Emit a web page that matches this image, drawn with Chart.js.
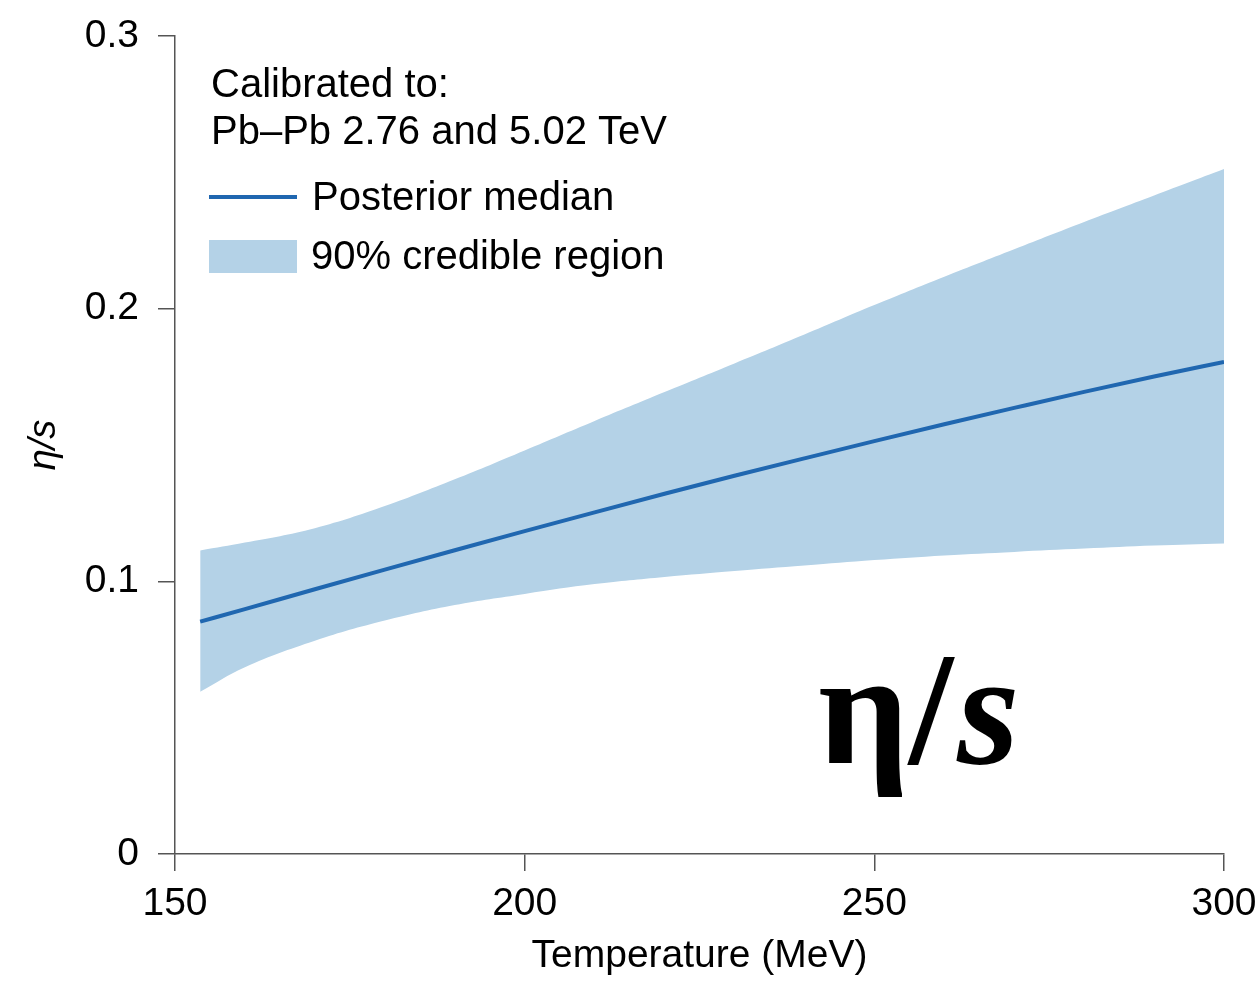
<!DOCTYPE html>
<html>
<head>
<meta charset="utf-8">
<script src="https://cdn.jsdelivr.net/npm/chart.js@4.4.1/dist/chart.umd.min.js"></script>
<style>
html,body{margin:0;padding:0;background:#fff;}
#wrap{width:1257px;height:981px;position:relative;}
</style>
</head>
<body>
<div id="wrap"><canvas id="c" width="1257" height="981"></canvas></div>
<script>
// ---- data ----
const temperatures = [153.6,160,170,180,190,200,210,220,230,240,250,260,270,280,290,300];
const medianValues = [0.0852,0.0898,0.0971,0.1043,0.1114,0.1184,0.1253,0.1321,0.1387,0.1451,0.1514,0.1576,0.1636,0.1695,0.1751,0.1805];
const upperValues  = [0.1113,0.1142,0.1195,0.1276,0.1374,0.1480,0.1588,0.1694,0.1799,0.1905,0.2013,0.2117,0.2218,0.2318,0.2415,0.2512];
const lowerValues  = [0.0595,0.0685,0.0782,0.0856,0.0913,0.0954,0.0990,0.1016,0.1038,0.1058,0.1078,0.1095,0.1108,0.1120,0.1131,0.1139];
const xTickValues = [150,200,250,300];
const yTickValues = [0,0.1,0.2,0.3];
const xAxisTitle = 'Temperature (MeV)';
const yAxisTitle = 'η/s';
const legendTitleLines = ['Calibrated to:', 'Pb–Pb 2.76 and 5.02 TeV'];
const seriesNames = ['Posterior median', '90% credible region'];
const bigLabelParts = ['η/', 's'];

// ---- styles ----
const LINE_COLOR = '#2067b0';
const BAND_COLOR = '#b4d2e7';
const AXIS_COLOR = '#555555';
const FONT = '"Liberation Sans", Arial, Helvetica, sans-serif';

const toPts = vals => temperatures.map((t, i) => ({x: t, y: vals[i]}));

const overlayPlugin = {
  id: 'overlay',
  afterDraw(chart) {
    const ctx = chart.ctx;
    const a = chart.chartArea;
    ctx.save();
    ctx.fillStyle = '#000';
    ctx.textAlign = 'left';
    ctx.textBaseline = 'alphabetic';
    ctx.font = '40px ' + FONT;
    const lx = a.left + 36;
    ctx.fillText(legendTitleLines[0], lx, a.top + 61);
    ctx.fillText(legendTitleLines[1], lx, a.top + 108);
    // line sample
    ctx.strokeStyle = LINE_COLOR;
    ctx.lineWidth = 4;
    ctx.beginPath();
    ctx.moveTo(a.left + 34, a.top + 161);
    ctx.lineTo(a.left + 122, a.top + 161);
    ctx.stroke();
    ctx.fillText(seriesNames[0], a.left + 137, a.top + 174);
    // box sample
    ctx.fillStyle = BAND_COLOR;
    ctx.fillRect(a.left + 34, a.top + 204, 88, 33);
    ctx.fillStyle = '#000';
    ctx.fillText(seriesNames[1], a.left + 136, a.top + 233);
    // big label
    ctx.font = 'bold 160px "Liberation Serif", "Times New Roman", serif';
    const bx = 818, by = 763;
    ctx.fillText(bigLabelParts[0], bx, by);
    const w = ctx.measureText(bigLabelParts[0]).width;
    ctx.font = 'bold italic 160px "Liberation Serif", "Times New Roman", serif';
    ctx.fillText(bigLabelParts[1], bx + w + 4, by);
    ctx.restore();
  }
};

new Chart(document.getElementById('c'), {
  type: 'line',
  data: {
    datasets: [
      {
        label: seriesNames[0],
        data: toPts(medianValues),
        borderColor: LINE_COLOR,
        borderWidth: 4,
        pointRadius: 0,
        fill: false,
        cubicInterpolationMode: 'monotone',
        order: 0
      },
      {
        label: seriesNames[1] + ' upper',
        data: toPts(upperValues),
        borderWidth: 0,
        borderColor: 'rgba(0,0,0,0)',
        backgroundColor: BAND_COLOR,
        pointRadius: 0,
        fill: '+1',
        tension: 0.4,
        order: 1
      },
      {
        label: seriesNames[1] + ' lower',
        data: toPts(lowerValues),
        borderWidth: 0,
        borderColor: 'rgba(0,0,0,0)',
        pointRadius: 0,
        fill: false,
        tension: 0.4,
        order: 2
      }
    ]
  },
  options: {
    responsive: false,
    animation: false,
    devicePixelRatio: 1,
    layout: { padding: { top: 36, right: 33, left: 0, bottom: 0 } },
    plugins: {
      legend: { display: false },
      tooltip: { enabled: false }
    },
    scales: {
      x: {
        type: 'linear',
        min: 150, max: 300,
        afterBuildTicks: s => { s.ticks = xTickValues.map(v => ({value: v})); },
        afterFit: s => { s.height = 127; s.paddingLeft = 0; s.paddingRight = 0; },
        grid: { drawOnChartArea: false, drawTicks: true, tickLength: 17, color: AXIS_COLOR, lineWidth: 1.5 },
        border: { display: true, color: AXIS_COLOR, width: 1.5 },
        ticks: { font: { family: FONT, size: 39 }, color: '#000', padding: 10, maxRotation: 0, autoSkip: false,
                 callback: v => String(v) },
        title: { display: true, text: xAxisTitle, font: { family: FONT, size: 39 }, color: '#000', padding: { top: 0, bottom: 1 } }
      },
      y: {
        type: 'linear',
        min: 0, max: 0.3,
        afterBuildTicks: s => { s.ticks = yTickValues.map(v => ({value: v})); },
        afterFit: s => { s.width = 175; s.paddingTop = 0; s.paddingBottom = 0; },
        grid: { drawOnChartArea: false, drawTicks: true, tickLength: 17, color: AXIS_COLOR, lineWidth: 1.5 },
        border: { display: true, color: AXIS_COLOR, width: 1.5 },
        ticks: { font: { family: FONT, size: 39 }, color: '#000', padding: 19,
                 callback: v => (v === 0 ? '0' : Number(v).toFixed(1)) },
        title: { display: true, text: yAxisTitle, font: { family: FONT, size: 38, style: 'italic' }, color: '#000', padding: { top: 22, bottom: 0 } }
      }
    }
  },
  plugins: [overlayPlugin]
});
</script>
</body>
</html>
